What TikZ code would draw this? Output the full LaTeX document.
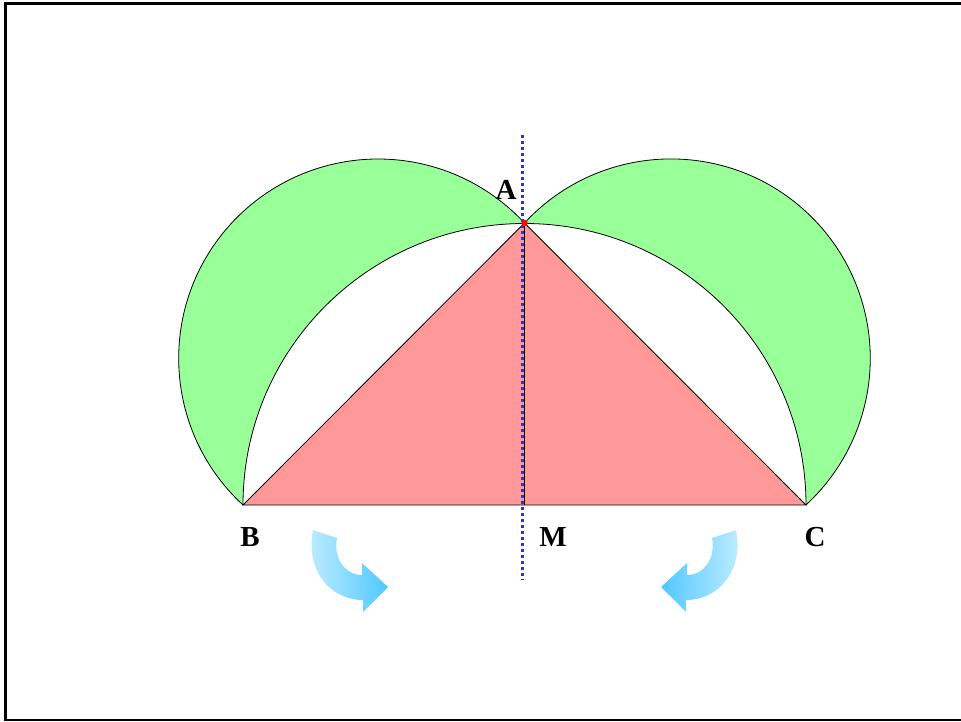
\documentclass[tikz,border=0pt]{standalone}
\usepackage{fontspec}
\setmainfont{Liberation Serif}
\begin{document}
\begin{tikzpicture}[x=1pt,y=-1pt,
  lune/.style={fill=lunegreen},
  edge/.style={draw=black,line width=0.8pt},
  lbl/.style={font=\fontsize{29}{31}\selectfont\bfseries,inner sep=0pt},
  turnarrow/.style={draw=none}]
\definecolor{lunegreen}{RGB}{153,255,153}
\definecolor{tripink}{RGB}{255,153,153}
\definecolor{dotblue}{RGB}{51,51,204}
\definecolor{arrlight}{RGB}{195,238,255}
\definecolor{arrdark}{RGB}{80,200,255}
\useasboundingbox (0,0) rectangle (961,722);
\coordinate (A) at (524.5,223);
\coordinate (B) at (243,505);
\coordinate (C) at (806,505);
\coordinate (M) at (524.5,505);
% frame
\draw[line width=2.5pt] (965,3.7) -- (5.3,3.7) -- (5.3,720) -- (965,720);
% green lunes
\fill[lune] (B) arc[start angle=132.64,end angle=317.26,radius=199.36] -- cycle;
\fill[lune] (A) arc[start angle=222.74,end angle=407.36,radius=199.36] -- cycle;
\fill[white] (B) arc[start angle=180,end angle=360,radius=281.5] -- cycle;
% triangle
\fill[tripink] (A) -- (B) -- (C) -- cycle;
\draw[edge] (B) arc[start angle=132.64,end angle=317.26,radius=199.36];
\draw[edge] (A) arc[start angle=222.74,end angle=407.36,radius=199.36];
\draw[edge] (B) arc[start angle=180,end angle=360,radius=281.5];
\draw[edge] (A) -- (B) -- (C) -- cycle;
\draw[edge] (A) -- (M);
% dotted axis
\coordinate (T) at (522.3,135);
\coordinate (U) at (522.3,580);
\draw[dotblue,line width=3pt,dash pattern=on 3pt off 3pt] (T) -- (U);
% point A
\fill[red!90!orange] (A) circle[radius=3.3];
% labels
\node[lbl] (lA) at (506,190) {A};
\node[lbl] (lB) at (250,537) {B};
\node[lbl] (lM) at (553,537) {M};
\node[lbl] (lC) at (815,537) {C};
% curved arrows
\shade[turnarrow,left color=arrlight,right color=arrdark]
  (313,530) -- (337,538) .. controls (333,558) and (345,575) .. (362,575)
  -- (362,563) -- (388,587) -- (363,612) -- (363,600)
  .. controls (330,600) and (305,570) .. (313,530) -- cycle;
\shade[turnarrow,left color=arrdark,right color=arrlight]
  (736,530) -- (712,538) .. controls (716,558) and (704,575) .. (687,575)
  -- (687,563) -- (661,587) -- (686,612) -- (686,600)
  .. controls (719,600) and (744,570) .. (736,530) -- cycle;
\end{tikzpicture}
\end{document}
